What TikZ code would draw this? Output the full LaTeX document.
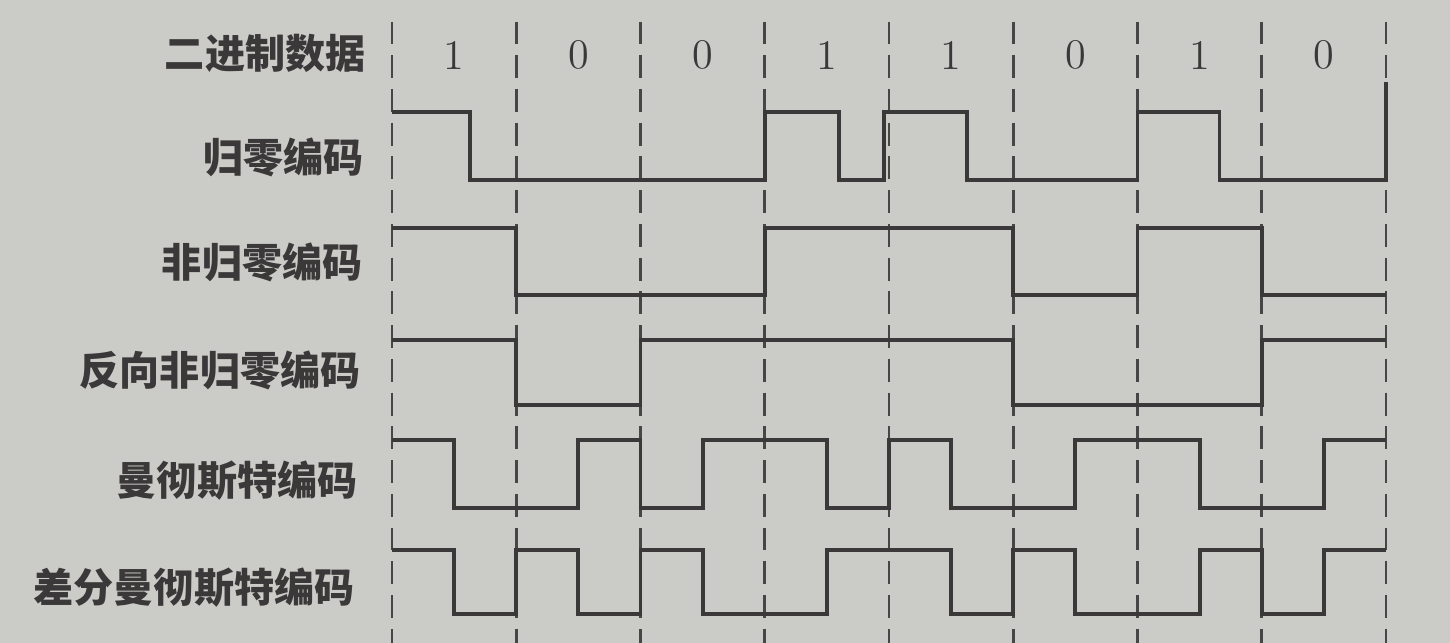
\documentclass[tikz,border=0pt]{standalone}
\usepackage{fontspec}
\newfontfamily\cjk{Noto Sans CJK SC}
\definecolor{bgc}{RGB}{203,203,200}
\definecolor{ink}{RGB}{58,56,56}
\definecolor{dash}{RGB}{70,70,70}
\begin{document}
\begin{tikzpicture}[x=0.1mm,y=-0.1mm,
  lbl/.style={anchor=east,inner sep=0pt,text=ink,font=\cjk\bfseries\fontsize{11.4}{13}\selectfont},
  bit/.style={inner sep=0pt,text=ink,font=\fontsize{12}{14}\selectfont},
  wave/.style={draw=ink,line width=1.1pt,line join=miter},
  grid/.style={draw=dash,line width=0.8pt,dash pattern=on 6.5pt off 3.1pt,dash phase=-1pt}]
\fill[bgc] (0,0) rectangle (1450,643);
\useasboundingbox (0,0) rectangle (1450,643);
% labels
\node[lbl] (l0) at (366,53) {二进制数据};
\node[lbl] (l1) at (364,157) {归零编码};
\node[lbl] (l2) at (363,262) {非归零编码};
\node[lbl] (l3) at (361,370) {反向非归零编码};
\node[lbl] (l4) at (358,481) {曼彻斯特编码};
\node[lbl] (l5) at (355,588) {差分曼彻斯特编码};
\begin{scope}[shift={(392,0)},x=12.425mm]
  % dashed bit boundaries
  \foreach \i in {0,...,8} \draw[grid] (\i,18) -- (\i,643);
  % bit values
  \foreach \b [count=\k from 0] in {1,0,0,1,1,0,1,0}
    \node[bit] (d\k) at (\k+0.5,55) {\b};
  % RZ
  \draw[wave] (0,112) -- (0.63,112) -- (0.63,180) -- (3,180) -- (3,112) -- (3.6,112) -- (3.6,180)
    -- (3.96,180) -- (3.96,112) -- (4.63,112) -- (4.63,180) -- (6,180) -- (6,112) -- (6.66,112)
    -- (6.66,180) -- (8,180) -- (8,82);
  % NRZ
  \draw[wave] (0,228) -- (1,228) -- (1,295) -- (3,295) -- (3,228) -- (5,228) -- (5,295)
    -- (6,295) -- (6,228) -- (7,228) -- (7,295) -- (8,295);
  % NRZI
  \draw[wave] (0,340) -- (1,340) -- (1,405) -- (2,405) -- (2,340) -- (5,340) -- (5,405)
    -- (7,405) -- (7,340) -- (8,340);
  % Manchester
  \draw[wave] (0,440) -- (0.5,440) -- (0.5,508) -- (1.5,508) -- (1.5,440) -- (2,440) -- (2,508)
    -- (2.5,508) -- (2.5,440) -- (3.5,440) -- (3.5,508) -- (4,508) -- (4,440) -- (4.5,440)
    -- (4.5,508) -- (5.5,508) -- (5.5,440) -- (6.5,440) -- (6.5,508) -- (7.5,508) -- (7.5,440) -- (8,440);
  % Differential Manchester
  \draw[wave] (0,550) -- (0.5,550) -- (0.5,614) -- (1,614) -- (1,550) -- (1.5,550) -- (1.5,614)
    -- (2,614) -- (2,550) -- (2.5,550) -- (2.5,614) -- (3.5,614) -- (3.5,550) -- (4.5,550)
    -- (4.5,614) -- (5,614) -- (5,550) -- (5.5,550) -- (5.5,614) -- (6.5,614) -- (6.5,550)
    -- (7,550) -- (7,614) -- (7.5,614) -- (7.5,550) -- (8,550);
\end{scope}
\end{tikzpicture}
\end{document}
